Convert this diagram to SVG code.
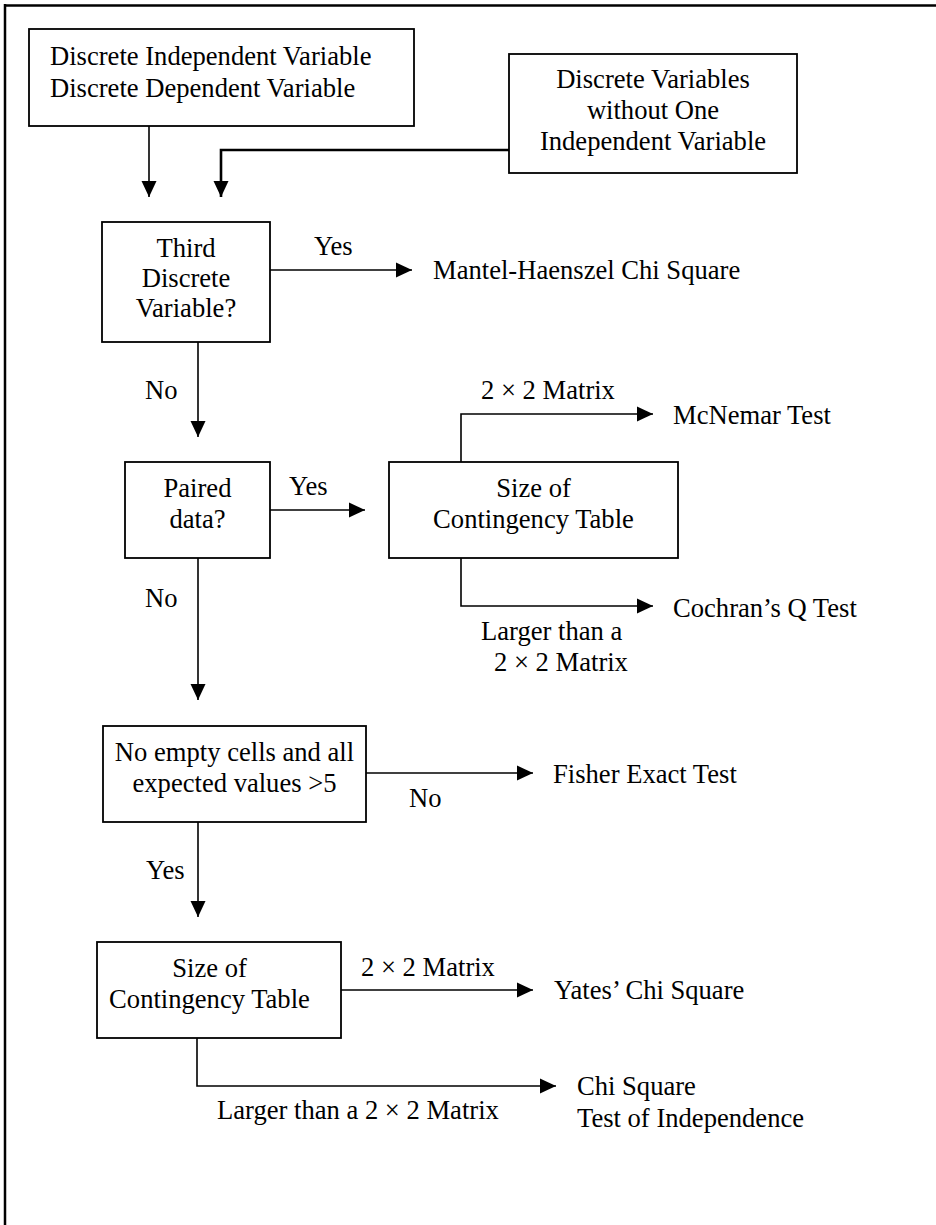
<svg xmlns="http://www.w3.org/2000/svg" width="936" height="1225" viewBox="0 0 936 1225">
  <style>
    .box { fill: #fff; stroke: #000; stroke-width: 1.8; }
    .edge { fill: none; stroke: #000; stroke-width: 1.6; }
    .edge.thick { stroke-width: 2.6; }
    text { font-family: "Liberation Serif", "Times New Roman", serif; font-size: 26.6px; fill: #000; }
    .c { text-anchor: middle; }
  </style>
  <defs>
    <marker id="arrow" markerUnits="userSpaceOnUse" markerWidth="17" markerHeight="17" refX="16" refY="8" orient="auto">
      <path d="M0,0.5 L16,8 L0,15.5 z" fill="#000"/>
    </marker>
  </defs>

  <rect width="936" height="1225" fill="#fff"/>

  <!-- frame (top and left edges) -->
  <g id="frame">
    <line x1="4" y1="5.5" x2="936" y2="5.5" stroke="#000" stroke-width="2.5"/>
    <line x1="5" y1="4" x2="5" y2="1225" stroke="#000" stroke-width="2.5"/>
  </g>

  <!-- connectors -->
  <g id="connectors">
    <path class="edge" d="M149,126 V197" marker-end="url(#arrow)"/>
    <path class="edge thick" d="M509,150 H221 V197" marker-end="url(#arrow)"/>
    <path class="edge" d="M270,270 H412" marker-end="url(#arrow)"/>
    <path class="edge" d="M198,342 V437" marker-end="url(#arrow)"/>
    <path class="edge" d="M270,510 H365" marker-end="url(#arrow)"/>
    <path class="edge" d="M461,462 V414 H653" marker-end="url(#arrow)"/>
    <path class="edge" d="M461,558 V606 H653" marker-end="url(#arrow)"/>
    <path class="edge" d="M198,558 V700" marker-end="url(#arrow)"/>
    <path class="edge" d="M366,773 H533" marker-end="url(#arrow)"/>
    <path class="edge" d="M198,822 V917" marker-end="url(#arrow)"/>
    <path class="edge" d="M341,990 H533" marker-end="url(#arrow)"/>
    <path class="edge" d="M197,1038 V1086 H556" marker-end="url(#arrow)"/>

    <text x="314" y="255">Yes</text>
    <text x="145" y="399">No</text>
    <text x="289" y="495">Yes</text>
    <text x="481" y="399">2 × 2 Matrix</text>
    <text x="481" y="640">Larger than a</text>
    <text x="494" y="671">2 × 2 Matrix</text>
    <text x="145" y="607">No</text>
    <text x="409" y="807">No</text>
    <text x="146" y="879">Yes</text>
    <text x="361" y="976">2 × 2 Matrix</text>
    <text x="217" y="1119">Larger than a 2 × 2 Matrix</text>
  </g>

  <!-- nodes -->
  <g id="n-discrete-iv-dv">
    <rect class="box" x="29" y="29" width="385" height="97"/>
    <text x="50" y="65">Discrete Independent Variable</text>
    <text x="50" y="97">Discrete Dependent Variable</text>
  </g>

  <g id="n-discrete-no-iv">
    <rect class="box" x="509" y="54" width="288" height="119"/>
    <text class="c" x="653" y="88">Discrete Variables</text>
    <text class="c" x="653" y="119">without One</text>
    <text class="c" x="653" y="150">Independent Variable</text>
  </g>

  <g id="n-third-variable">
    <rect class="box" x="102" y="222" width="168" height="120"/>
    <text class="c" x="186" y="257">Third</text>
    <text class="c" x="186" y="287">Discrete</text>
    <text class="c" x="186" y="317">Variable?</text>
  </g>

  <g id="n-mantel-haenszel">
    <text x="433" y="279">Mantel-Haenszel Chi Square</text>
  </g>

  <g id="n-paired">
    <rect class="box" x="125" y="462" width="145" height="96"/>
    <text class="c" x="197.5" y="497">Paired</text>
    <text class="c" x="197.5" y="528">data?</text>
  </g>

  <g id="n-size-paired">
    <rect class="box" x="389" y="462" width="289" height="96"/>
    <text class="c" x="533.5" y="497">Size of</text>
    <text class="c" x="533.5" y="528">Contingency Table</text>
  </g>

  <g id="n-mcnemar">
    <text x="673" y="424">McNemar Test</text>
  </g>

  <g id="n-cochran">
    <text x="673" y="617">Cochran’s Q Test</text>
  </g>

  <g id="n-expected-values">
    <rect class="box" x="103" y="726" width="263" height="96"/>
    <text class="c" x="234.5" y="761">No empty cells and all</text>
    <text class="c" x="234.5" y="792">expected values &gt;5</text>
  </g>

  <g id="n-fisher">
    <text x="553" y="783">Fisher Exact Test</text>
  </g>

  <g id="n-size-unpaired">
    <rect class="box" x="97" y="942" width="244" height="96"/>
    <text class="c" x="209.5" y="977">Size of</text>
    <text class="c" x="209.5" y="1008">Contingency Table</text>
  </g>

  <g id="n-yates">
    <text x="554" y="999">Yates’ Chi Square</text>
  </g>

  <g id="n-chi-square">
    <text x="577" y="1095">Chi Square</text>
    <text x="577" y="1127">Test of Independence</text>
  </g>
</svg>
